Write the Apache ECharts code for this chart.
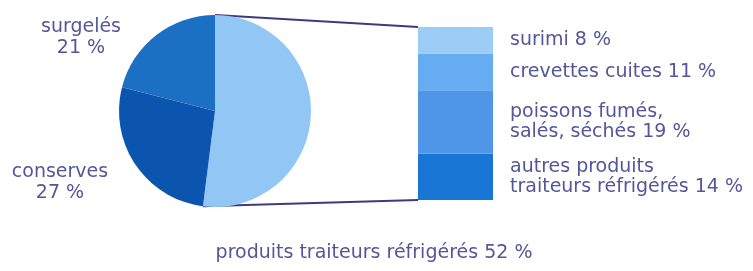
<!DOCTYPE html>
<html lang="fr">
  <head>
    <meta charset="UTF-8" />
    <script src="https://cdn.jsdelivr.net/npm/echarts@6/dist/echarts.min.js"></script>
    <title>Produits de la mer</title>
    <style>
      html, body { margin: 0; padding: 0; background: #fff; }
      #chart { width: 753px; height: 271px; }
    </style>
  </head>
  <body>
    <div id="chart"></div>
    <script>
      // pie: main categories (clockwise from 12 o'clock)
      const pieNames = ["produits traiteurs réfrigérés", "conserves", "surgelés"];
      const pieValues = [52, 27, 21];
      const pieColors = ["#92c6f5", "#0b55ae", "#1b70c4"];

      // breakdown of "produits traiteurs réfrigérés" (top to bottom)
      const subNames = ["surimi", "crevettes cuites", "poissons fumés,\nsalés, séchés", "autres produits\ntraiteurs réfrigérés"];
      const subValues = [8, 11, 19, 14];
      const subColors = ["#9dcdf7", "#65acf0", "#4f97e6", "#1a76d4"];

      const textColor = "#55559a";
      const font = "DejaVu Sans";
      const fontSize = 19;
      const cx = 215, cy = 111, radius = 96;
      const bar = { left: 418, top: 27, width: 75, height: 173 };

      // label spots for the pie labels
      const pieLabelPos = [[374, 253], [60, 183], [81, 38]];

      const myChart = echarts.init(document.getElementById("chart"));

      const total = subValues.reduce((a, b) => a + b, 0);

      // stacked bar: bottom segment first
      const barSeries = subValues.map((v, i) => i).reverse().map((i) => ({
        type: "bar",
        stack: "sub",
        barWidth: "100%",
        data: [subValues[i]],
        itemStyle: { color: subColors[i] },
        label: {
          show: true,
          position: "right",
          distance: 17,
          align: "left",
          color: textColor,
          fontFamily: font,
          fontSize: fontSize,
          lineHeight: 20,
          formatter: subNames[i] + " " + subValues[i] + " %"
        }
      }));

      const option = {
        animation: false,
        grid: { left: bar.left, top: bar.top, width: bar.width, height: bar.height },
        xAxis: { type: "category", data: ["x"], show: false },
        yAxis: { type: "value", min: 0, max: total, show: false },
        series: [
          {
            type: "pie",
            center: [cx, cy],
            radius: radius,
            startAngle: 90,
            clockwise: true,
            silent: true,
            data: pieNames.map((n, i) => ({
              name: n,
              value: pieValues[i],
              itemStyle: { color: pieColors[i] },
              label: { formatter: i === 0 ? n + " " + pieValues[i] + " %" : n + "\n" + pieValues[i] + " %" }
            })),
            label: {
              show: true,
              position: "inside",
              overflow: "none",
              color: textColor,
              fontFamily: font,
              fontSize: fontSize,
              lineHeight: 21,
              align: "center"
            },
            labelLine: { show: false },
            labelLayout: (p) => ({
              x: pieLabelPos[p.dataIndex][0],
              y: pieLabelPos[p.dataIndex][1],
              align: "center",
              verticalAlign: "middle"
            })
          }
        ].concat(barSeries)
      };
      myChart.setOption(option);

      // connector lines from the big slice to the stacked bar
      const endAngle = (pieValues[0] / pieValues.reduce((a, b) => a + b, 0)) * 2 * Math.PI;
      const pieTop = [cx, cy - radius];
      const pieBottom = [cx + radius * Math.sin(endAngle), cy - radius * Math.cos(endAngle)];
      const barTop = myChart.convertToPixel({ gridIndex: 0 }, [0, total]);
      const barBottom = myChart.convertToPixel({ gridIndex: 0 }, [0, 0]);
      const lineStyle = { stroke: "#3b3b7e", lineWidth: 1.8 };
      myChart.setOption({
        graphic: [
          { type: "line", z: 0, shape: { x1: pieTop[0], y1: pieTop[1], x2: bar.left, y2: barTop[1] }, style: lineStyle },
          { type: "line", z: 0, shape: { x1: pieBottom[0], y1: pieBottom[1], x2: bar.left, y2: barBottom[1] }, style: lineStyle }
        ]
      });
    </script>
  </body>
</html>
